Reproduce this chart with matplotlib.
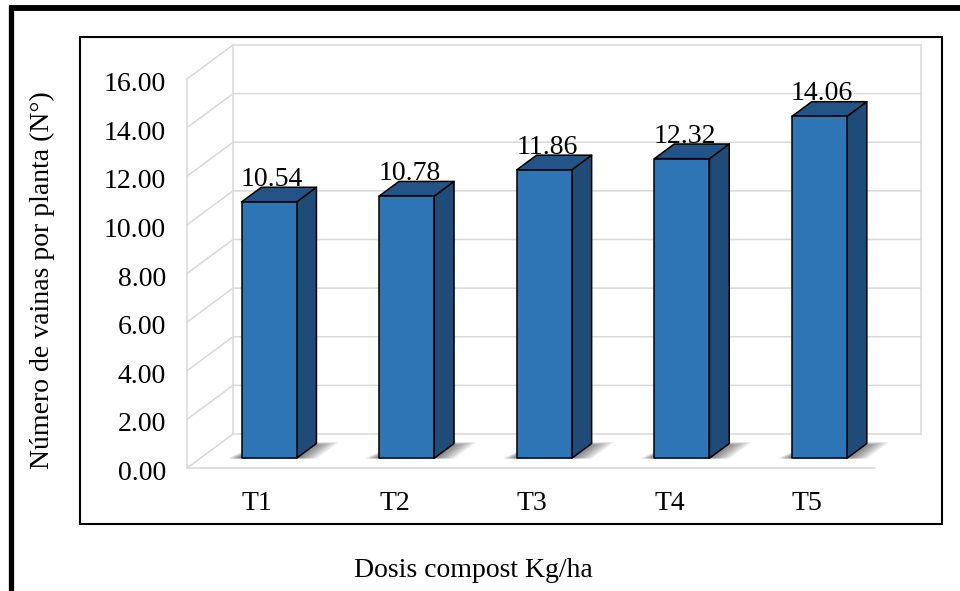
import matplotlib
matplotlib.use('Agg')
import matplotlib.pyplot as plt
import numpy as np
from matplotlib.patches import Polygon, Rectangle
from matplotlib.lines import Line2D
from matplotlib.transforms import IdentityTransform

# ---------------- data ----------------
categories = ['T1', 'T2', 'T3', 'T4', 'T5']
values = [10.54, 10.78, 11.86, 12.32, 14.06]
value_labels = ['10.54', '10.78', '11.86', '12.32', '14.06']
y_ticks = [0, 2, 4, 6, 8, 10, 12, 14, 16]
y_tick_labels = ['0.00', '2.00', '4.00', '6.00', '8.00', '10.00', '12.00', '14.00', '16.00']
y_title = 'Número de vainas por planta (N°)'
x_title = 'Dosis compost Kg/ha'

plt.rcParams['font.family'] = ['Liberation Serif', 'DejaVu Serif']
FS = 20

W, H = 960, 591
fig = plt.figure(figsize=(W / 100, H / 100), dpi=100)
fig.patch.set_facecolor('white')
ID = IdentityTransform()

def fy(y):  # pixel-from-top -> display
    return H - y

# ---------------- frames ----------------
fig.add_artist(Line2D([8.5, W], [fy(8), fy(8)], transform=ID, color='black', lw=4.2, solid_capstyle='butt'))
fig.add_artist(Line2D([11, 11], [fy(5.5), 0], transform=ID, color='black', lw=3.8, solid_capstyle='butt'))
fig.add_artist(Rectangle((80, fy(524)), 942 - 80, 524 - 37, transform=ID, fill=False,
                         edgecolor='black', lw=1.5))

# ---------------- front plane axes ----------------
left, right, bot, top = 187, 875, 468, 79
ax = fig.add_axes([left / W, 1 - bot / H, (right - left) / W, (bot - top) / H])
ax.set_xlim(-0.5, len(categories) - 0.5)
ax.set_ylim(y_ticks[0], y_ticks[-1])
ax.axis('off')

DX, DY = 46.0, 34.0  # full depth offset in pixels

def P(x, y, d):
    p = ax.transData.transform((x, y))
    return (p[0] + d * DX, p[1] + d * DY)

def add_line(pts, **kw):
    xs, ys = zip(*pts)
    ax.add_artist(Line2D(xs, ys, transform=ID, clip_on=False, **kw))

def add_poly(pts, **kw):
    ax.add_patch(Polygon(pts, closed=True, transform=ID, clip_on=False, **kw))

gc = '#d9d9d9'
glw = 1.1
x0, x1 = -0.5, len(categories) - 0.5
ymin, ymax = y_ticks[0], y_ticks[-1]
# back wall + side wall gridlines
for t in y_ticks:
    add_line([P(x0, t, 0), P(x0, t, 1), P(x1, t, 1)], color=gc, lw=glw, zorder=1)
# wall verticals
add_line([P(x0, ymin, 0), P(x0, ymax, 0)], color=gc, lw=glw, zorder=1)
add_line([P(x0, ymin, 1), P(x0, ymax, 1)], color=gc, lw=glw, zorder=1)
add_line([P(x1, ymin, 1), P(x1, ymax, 1)], color=gc, lw=glw, zorder=1)
# floor front edge
add_line([P(x0, ymin, 0), P(x1, ymin, 0)], color=gc, lw=glw, zorder=1)

# ---------------- bars ----------------
w = 0.40
d0, d1 = 0.29, 0.72
front_c = '#2E75B6'
side_c = '#1E4B77'
top_c = '#225488'
for i, v in enumerate(values):
    xl, xr = i - w / 2, i + w / 2
    # soft shadow on floor
    for k in range(7):
        ex = 0.015 + k * 0.022
        ed = k * 0.03
        add_poly([P(xl - 0.01 - ex * 0.6, 0, d0 - 0.01), P(xr + ex, 0, d0 - 0.01),
                  P(xr + ex, 0, d1 + ed * 0.5 - 0.05), P(xl, 0, d1 + ed * 0.5 - 0.05)],
                 facecolor='black', edgecolor='none', alpha=0.085, zorder=2)
    add_poly([P(xr, 0, d0), P(xr, 0, d1), P(xr, v, d1), P(xr, v, d0)],
             facecolor=side_c, edgecolor='black', lw=1.1, joinstyle='round', zorder=3)
    add_poly([P(xl, v, d0), P(xr, v, d0), P(xr, v, d1), P(xl, v, d1)],
             facecolor=top_c, edgecolor='black', lw=1.1, joinstyle='round', zorder=3)
    add_poly([P(xl, 0, d0), P(xr, 0, d0), P(xr, v, d0), P(xl, v, d0)],
             facecolor=front_c, edgecolor='black', lw=1.1, joinstyle='round', zorder=4)
    ax.annotate(value_labels[i], xy=(i, v), xytext=(d0 * DX + 2.5, d0 * DY + 16),
                textcoords='offset pixels', ha='center', va='baseline', fontsize=FS,
                color='black', zorder=6, annotation_clip=False)

# ---------------- tick labels ----------------
for t, lab in zip(y_ticks, y_tick_labels):
    ax.annotate(lab, xy=(x0, t), xytext=(-21, -12), textcoords='offset pixels',
                ha='right', va='baseline', fontsize=FS, color='black', annotation_clip=False)
for i, c in enumerate(categories):
    ax.annotate(c, xy=(i, ymin), xytext=(1, -42), textcoords='offset pixels',
                ha='center', va='baseline', fontsize=FS, color='black', annotation_clip=False)

# ---------------- titles ----------------
fig.text(473 / W, 1 - 577 / H, x_title, ha='center', va='baseline', fontsize=FS, color='black')
fig.text(42 / W, 1 - 280 / H, y_title, ha='center', va='center', rotation=90,
         fontsize=FS, color='black')

fig.savefig('out.png', dpi=100, facecolor='white')
